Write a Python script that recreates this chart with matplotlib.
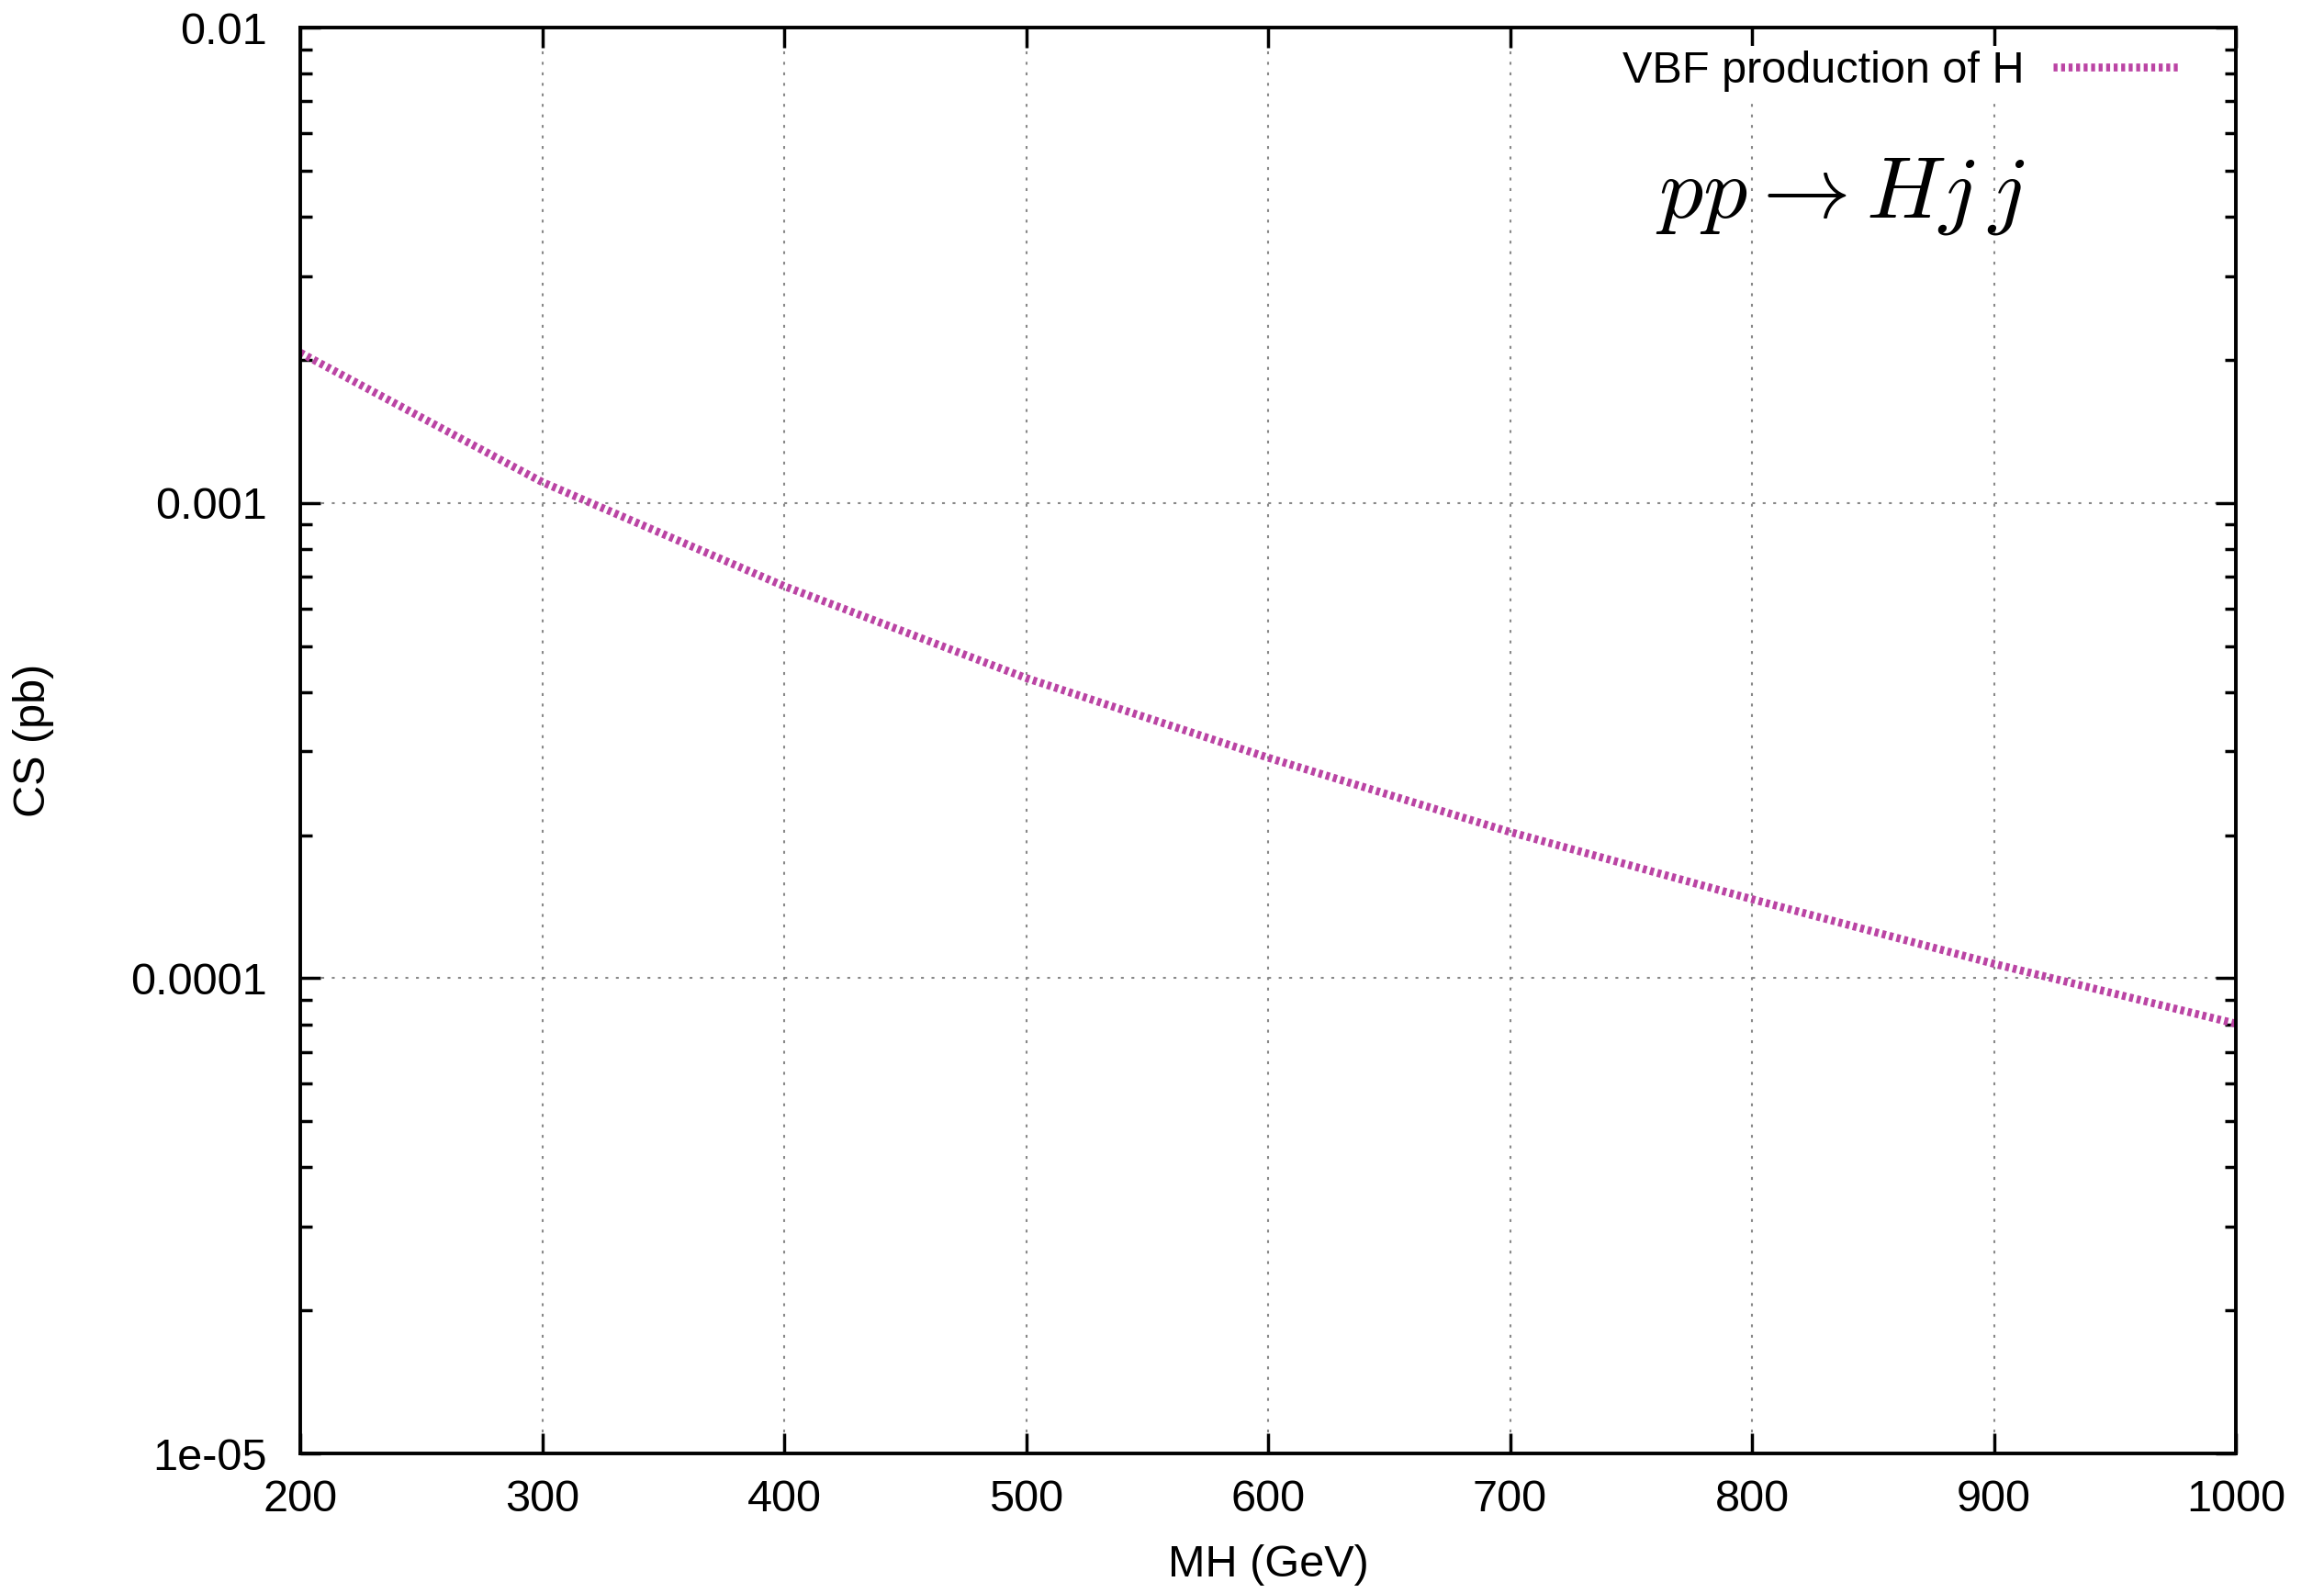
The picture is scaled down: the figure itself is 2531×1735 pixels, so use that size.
import matplotlib.pyplot as plt
from matplotlib.ticker import FixedLocator, FuncFormatter, LogLocator, NullLocator

plt.rcParams['font.family'] = ['Liberation Sans', 'DejaVu Sans']
plt.rcParams['mathtext.fontset'] = 'cm'

# VBF Higgs production cross section vs Higgs mass
mh = [200, 300, 400, 500, 600, 700, 800, 900, 1000]
cs = [2.07e-3, 1.106e-3, 6.68e-4, 4.28e-4, 2.91e-4, 2.03e-4, 1.466e-4, 1.072e-4, 8.02e-5]

x_ticks = [200, 300, 400, 500, 600, 700, 800, 900, 1000]
y_ticks = [1e-5, 1e-4, 1e-3, 1e-2]

fs = 35

fig = plt.figure(figsize=(25.31, 17.35), dpi=100)
ax = fig.add_axes([0.1292, 0.0876, 0.8329, 0.8951])

ax.plot(mh, cs, color='#bb44a4', lw=6.2, linestyle=(0, (0.5, 0.45)),
        dash_capstyle='butt', label='VBF production of H')

ax.set_yscale('log')
ax.set_xlim(200, 1000)
ax.set_ylim(1e-5, 1e-2)

ax.xaxis.set_major_locator(FixedLocator(x_ticks))
ax.xaxis.set_minor_locator(NullLocator())
ax.yaxis.set_major_locator(FixedLocator(y_ticks))
ax.yaxis.set_minor_locator(LogLocator(base=10, subs=range(2, 10)))
ax.yaxis.set_major_formatter(FuncFormatter(lambda v, p: f'{v:g}'))

ax.tick_params(which='both', direction='in', top=True, right=True,
               width=2.5, labelsize=fs)
ax.tick_params(which='major', length=16)
ax.tick_params(which='minor', length=9)
ax.tick_params(axis='y', pad=26)
ax.tick_params(axis='x', pad=20)

for s in ax.spines.values():
    s.set_linewidth(2.8)

ax.grid(True, which='major', color='#888888', linestyle=(0, (1.5, 4)), lw=1.5)

ax.set_xlabel('MH (GeV)', fontsize=fs)
ax.set_ylabel('CS (pb)', fontsize=fs)
ax.xaxis.set_label_coords(0.5, -0.064)
ax.yaxis.set_label_coords(-0.127, 0.5)

leg = ax.legend(loc='upper right', bbox_to_anchor=(0.973, 0.987),
                fontsize=fs, markerfirst=False, handlelength=2.82,
                handletextpad=0.64, borderpad=0.1, borderaxespad=0,
                frameon=True, fancybox=False)
leg.get_frame().set_facecolor('white')
leg.get_frame().set_edgecolor('none')
leg.get_frame().set_alpha(1)

ax.text(0.891, 0.8667, r'$pp \rightarrow Hj\,j$', transform=ax.transAxes,
        fontsize=69, ha='right', va='baseline')

fig.savefig('out.png', dpi=100)
